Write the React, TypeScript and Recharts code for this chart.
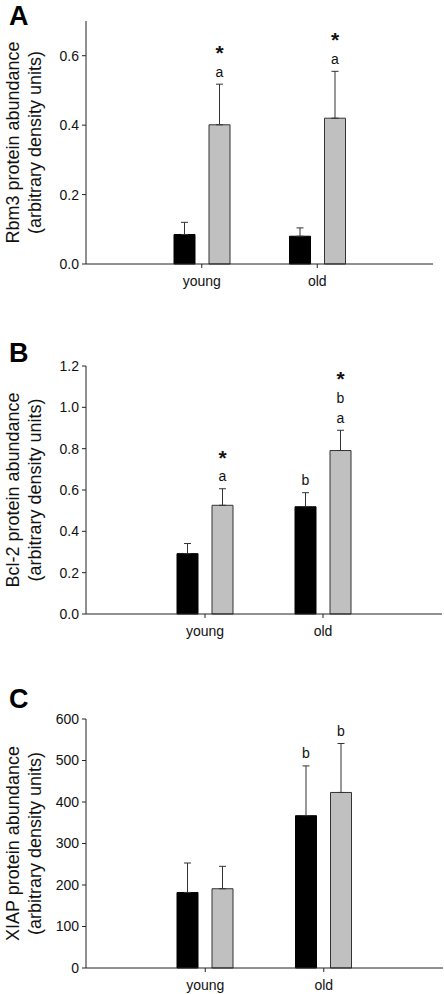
import { Bar, BarChart, ErrorBar, LabelList, XAxis, YAxis } from "recharts";

const groups = ["young", "old"];

// panel A: Rbm3
const rbm3Black = [0.085, 0.08];
const rbm3BlackErr = [0.035, 0.024];
const rbm3Gray = [0.401, 0.42];
const rbm3GrayErr = [0.117, 0.135];
const rbm3BlackMarks = [[], []];
const rbm3GrayMarks = [["a", "*"], ["a", "*"]];
const rbm3Ticks = [0, 0.2, 0.4, 0.6];

// panel B: Bcl-2
const bcl2Black = [0.292, 0.519];
const bcl2BlackErr = [0.049, 0.068];
const bcl2Gray = [0.526, 0.791];
const bcl2GrayErr = [0.08, 0.098];
const bcl2BlackMarks = [[], ["b"]];
const bcl2GrayMarks = [["a", "*"], ["a", "b", "*"]];
const bcl2Ticks = [0, 0.2, 0.4, 0.6, 0.8, 1.0, 1.2];

// panel C: XIAP
const xiapBlack = [182, 367];
const xiapBlackErr = [71, 120];
const xiapGray = [191, 423];
const xiapGrayErr = [54, 118];
const xiapBlackMarks = [[], ["b"]];
const xiapGrayMarks = [[], ["b"]];
const xiapTicks = [0, 100, 200, 300, 400, 500, 600];

const FONT = "'Liberation Sans', Arial, Helvetica, sans-serif";
const AXIS = "#222";

function marksLabel(errs: number[], marks: string[][]) {
  return (props: any) => {
    const vb = props.viewBox || props;
    const { x, y, width, height } = vb;
    const i = props.index ?? 0;
    const v = Number(props.value);
    const list = marks[i] || [];
    if (!list.length || !v) return null;
    const bottom = y + height;
    const errTop = bottom - ((v + errs[i]) * height) / v;
    const cx = x + width / 2;
    let center = errTop - 12;
    const out: any[] = [];
    list.forEach((m, k) => {
      if (m === "*") {
        if (k > 0) center -= 24;
        out.push(
          <text key={k} x={cx} y={center + 12} textAnchor="middle" fontSize={21} fontWeight="bold" fontFamily={FONT} fill="#111">
            {m}
          </text>
        );
      } else {
        if (k > 0) center -= 20;
        out.push(
          <text key={k} x={cx} y={center + 4.5} textAnchor="middle" fontSize={14} fontFamily={FONT} fill="#111">
            {m}
          </text>
        );
      }
    });
    return <g>{out}</g>;
  };
}

type PanelProps = {
  letter: string;
  title: string;
  top: number;
  height: number;
  plotTop: number;
  plotBottom: number;
  right: number;
  pad: number;
  letterY: number;
  black: number[];
  blackErr: number[];
  gray: number[];
  grayErr: number[];
  blackMarks: string[][];
  grayMarks: string[][];
  ticks: number[];
  max: number;
  fmt: (v: number) => string;
};

function Panel(p: PanelProps) {
  const data = groups.map((g, i) => ({
    group: g,
    black: p.black[i],
    blackErr: [0, p.blackErr[i]],
    gray: p.gray[i],
    grayErr: [0, p.grayErr[i]],
  }));
  const axisLeft = 86;
  const marginTop = p.plotTop - p.top;
  const marginBottom = p.top + p.height - p.plotBottom - 26;
  const midY = (p.plotTop + p.plotBottom) / 2 - p.top;

  return (
    <div style={{ position: "absolute", left: 0, top: p.top, width: 444, height: p.height }}>
      <BarChart
        width={444}
        height={p.height}
        data={data}
        margin={{ top: marginTop, right: 444 - p.right, bottom: marginBottom, left: 0 }}
        barSize={21}
        barGap={14}
      >
        <XAxis
          dataKey="group"
          type="category"
          padding={{ left: p.pad, right: p.pad }}
          height={26}
          stroke={AXIS}
          tickSize={4}
          tickMargin={8}
          tick={{ fill: "#111", fontSize: 14, fontFamily: FONT }}
        />
        <YAxis
          width={axisLeft}
          domain={[0, p.max]}
          ticks={p.ticks}
          tickFormatter={p.fmt}
          interval={0}
          stroke={AXIS}
          tickSize={4}
          tickMargin={3}
          tick={{ fill: "#111", fontSize: 14, fontFamily: FONT }}
          label={{
            content: () => (
              <g>
                <text x={9} y={p.letterY - p.top} fontSize={27} fontWeight="bold" fontFamily={FONT} fill="#000">
                  {p.letter}
                </text>
                <text
                  transform={`translate(13, ${midY}) rotate(-90)`}
                  textAnchor="middle"
                  dominantBaseline="central"
                  fontSize={18}
                  fontFamily={FONT}
                  fill="#111"
                >
                  {p.title}
                </text>
                <text
                  transform={`translate(35, ${midY}) rotate(-90)`}
                  textAnchor="middle"
                  dominantBaseline="central"
                  fontSize={18}
                  fontFamily={FONT}
                  fill="#111"
                >
                  (arbitrary density units)
                </text>
              </g>
            ),
          }}
        />
        <Bar dataKey="black" fill="#000" stroke="#000" strokeWidth={1} isAnimationActive={false}>
          <ErrorBar dataKey="blackErr" width={3.5} stroke="#333" strokeWidth={1} />
          <LabelList dataKey="black" content={marksLabel(p.blackErr, p.blackMarks)} />
        </Bar>
        <Bar dataKey="gray" fill="#c0c0c0" stroke="#333" strokeWidth={1} isAnimationActive={false}>
          <ErrorBar dataKey="grayErr" width={3.5} stroke="#333" strokeWidth={1} />
          <LabelList dataKey="gray" content={marksLabel(p.grayErr, p.grayMarks)} />
        </Bar>
      </BarChart>
    </div>
  );
}

export default function App() {
  return (
    <div style={{ position: "absolute", left: 0, top: 0, width: 444, height: 994, background: "#fff" }}>
      <Panel
        letter="A"
        title="Rbm3 protein abundance"
        top={0}
        height={300}
        plotTop={21}
        plotBottom={264}
        right={433}
        pad={58}
        letterY={25}
        black={rbm3Black}
        blackErr={rbm3BlackErr}
        gray={rbm3Gray}
        grayErr={rbm3GrayErr}
        blackMarks={rbm3BlackMarks}
        grayMarks={rbm3GrayMarks}
        ticks={rbm3Ticks}
        max={0.7}
        fmt={(v) => v.toFixed(1)}
      />
      <Panel
        letter="B"
        title="Bcl-2 protein abundance"
        top={300}
        height={345}
        plotTop={366}
        plotBottom={614}
        right={442}
        pad={60}
        letterY={362}
        black={bcl2Black}
        blackErr={bcl2BlackErr}
        gray={bcl2Gray}
        grayErr={bcl2GrayErr}
        blackMarks={bcl2BlackMarks}
        grayMarks={bcl2GrayMarks}
        ticks={bcl2Ticks}
        max={1.2}
        fmt={(v) => v.toFixed(1)}
      />
      <Panel
        letter="C"
        title="XIAP protein abundance"
        top={645}
        height={349}
        plotTop={719}
        plotBottom={968}
        right={443}
        pad={60}
        letterY={708}
        black={xiapBlack}
        blackErr={xiapBlackErr}
        gray={xiapGray}
        grayErr={xiapGrayErr}
        blackMarks={xiapBlackMarks}
        grayMarks={xiapGrayMarks}
        ticks={xiapTicks}
        max={600}
        fmt={(v) => String(v)}
      />
    </div>
  );
}
